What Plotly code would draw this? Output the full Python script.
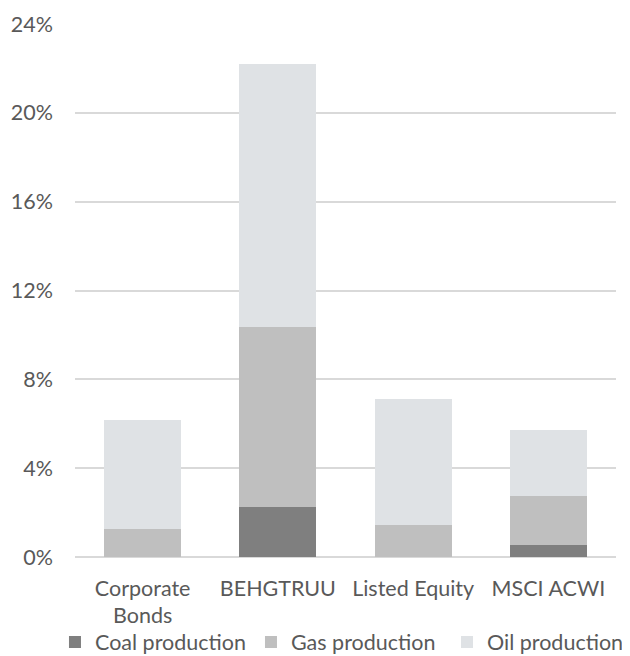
import plotly.graph_objects as go

categories = ["Corporate<br>Bonds", "BEHGTRUU", "Listed Equity", "MSCI ACWI"]
coal = [0.0, 2.27, 0.0, 0.52]
gas = [1.27, 8.09, 1.44, 2.24]
oil = [4.90, 11.83, 5.67, 2.97]
series_names = ["Coal production", "Gas production", "Oil production"]
colors = ["#7f7f7f", "#bfbfbf", "#dfe2e5"]

fig = go.Figure()
for name, vals, col in zip(series_names, [coal, gas, oil], colors):
    fig.add_trace(go.Bar(x=categories, y=vals, name=name, marker_color=col,
                         marker_line_width=0))

font = dict(family="Lato, 'Open Sans', sans-serif", size=21.5, color="#595959")
fig.update_layout(
    barmode="stack",
    bargap=0.43,
    width=622, height=648,
    margin=dict(l=67, r=14, t=16, b=99, autoexpand=False),
    paper_bgcolor="white", plot_bgcolor="white",
    font=font,
    showlegend=True,
    legend=dict(orientation="h", x=-0.037, xanchor="left", y=-0.121, yanchor="top",
                font=font, entrywidth=151, itemwidth=30, traceorder="normal",
                tracegroupgap=0, bgcolor="rgba(0,0,0,0)"),
    yaxis=dict(range=[0, 24], dtick=4, ticksuffix="%", gridcolor="#d9d9d9",
               gridwidth=1.5, zeroline=True, zerolinecolor="#d9d9d9",
               zerolinewidth=1.5, showline=False, ticks="", tickfont=font,
               ticklabelstandoff=21),
    xaxis=dict(showline=False, ticks="", tickfont=font, ticklabelstandoff=16),
)
fig.write_html("out.html")
